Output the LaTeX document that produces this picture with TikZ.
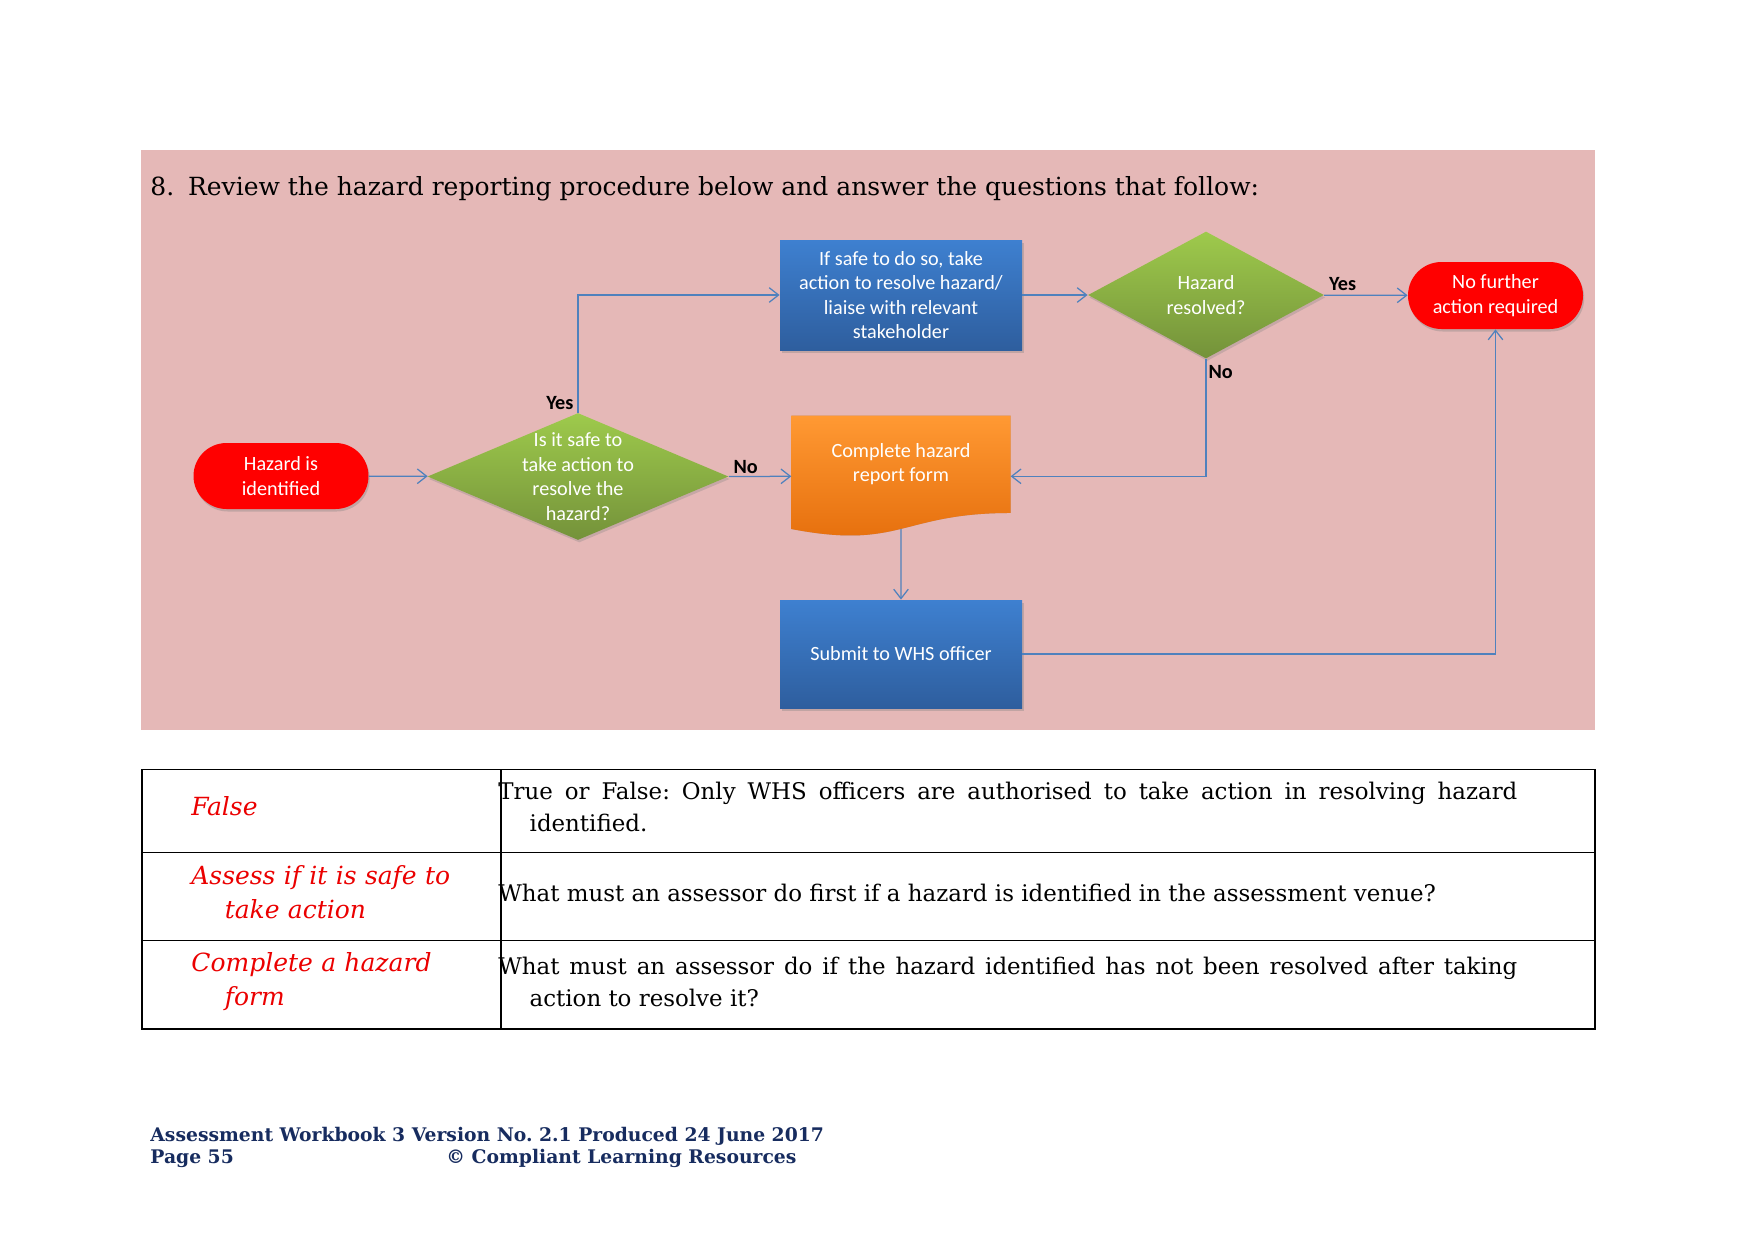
\documentclass[tikz,border=0pt]{standalone}
\usepackage{fontspec}
\setmainfont{DejaVu Serif}
\newfontfamily\flowfont{Carlito}
\usetikzlibrary{positioning, arrows.meta, shapes.geometric, shapes.misc,
  shadows, calc}

\definecolor{pinkbg}{RGB}{229,184,183}
\definecolor{termred}{RGB}{255,0,0}
\definecolor{greentop}{RGB}{158,202,76}
\definecolor{greenbot}{RGB}{116,146,58}
\definecolor{bluetop}{RGB}{62,128,208}
\definecolor{bluebot}{RGB}{46,94,158}
\definecolor{orangetop}{RGB}{255,153,51}
\definecolor{orangebot}{RGB}{228,108,10}
\definecolor{linkblue}{RGB}{79,129,189}
\definecolor{ansred}{RGB}{235,0,0}
\definecolor{navy}{RGB}{23,44,95}

\newcommand\pxu{0.48pt}

\begin{document}
\frenchspacing
\begin{tikzpicture}[
  x=0.48pt, y=-0.48pt,
  flow/.style={font=\flowfont\fontsize{9.7}{11.8}\selectfont, text=white,
               align=center},
  term/.style={flow, rounded rectangle, fill=termred, inner sep=0pt,
               minimum width=175*\pxu, minimum height=66*\pxu,
               drop shadow={shadow xshift=0.6pt, shadow yshift=-1.2pt, opacity=0.35}},
  decision/.style={diamond, top color=greentop, bottom color=greenbot,
               inner sep=0pt, minimum width=301*\pxu, minimum height=127*\pxu,
               drop shadow={shadow xshift=0.6pt, shadow yshift=-1.2pt, opacity=0.3}},
  bluebox/.style={flow, rectangle, top color=bluetop, bottom color=bluebot,
               minimum width=242*\pxu, minimum height=110*\pxu, inner sep=0pt,
               drop shadow={shadow xshift=0.8pt, shadow yshift=-1.4pt, opacity=0.35}},
  docbox/.style={minimum width=218.5*\pxu, minimum height=120.6*\pxu, inner sep=0pt},
  link/.style={draw=linkblue, line width=0.6pt,
               -{Straight Barb[length=4.5pt, width=7pt]}},
  lbl/.style={font=\flowfont\fontsize{9.7}{11.8}\selectfont\bfseries, inner sep=1pt},
  headline/.style={font=\fontsize{12}{14}\selectfont, inner sep=0pt},
  ans/.style={font=\fontsize{12}{16.3}\selectfont\itshape, text=ansred, inner sep=0pt},
  qst/.style={font=\fontsize{11}{15.4}\selectfont, inner sep=0pt},
  foot/.style={font=\fontsize{9}{10.5}\selectfont\bfseries, text=navy, inner sep=0pt},
]
\fill[white] (0,0) rectangle (1754,1241);
\useasboundingbox (0,0) rectangle (1754,1241);
\fill[pinkbg] (141,150) rectangle (1595,730);

\node[headline, anchor=west] (head) at (150,188.5)
  {8.\hspace{0.55em}Review the hazard reporting procedure below and answer the questions that follow:};

% flowchart
\node[term] (haz) at (281,476) {Hazard is\\identified};
\node[decision, label={[flow]center:Is it safe to\\take action to\\resolve the\\hazard?}]
  (safe) at (578,476.5) {};
\node[bluebox] (act) at (901,295)
  {If safe to do so, take\\action to resolve hazard/\\liaise with relevant\\stakeholder};
\node[decision, minimum width=236*\pxu, label={[flow]center:Hazard\\resolved?}]
  (res) at (1206,295) {};
\node[term, minimum height=67*\pxu] (nof) at (1495.5,295.5) {No further\\action required};
\node[docbox] (doc) at (901,476.3) {};
\fill[black, opacity=0.2, xshift=0.8pt, yshift=-1.4pt]
  (doc.north west) -- (doc.north east)
  -- ($(doc.north east)!0.802!(doc.south east)$)
  .. controls ($(doc.north)!0.802!(doc.south)$) and ($(doc.north)!1.1075!(doc.south)$)
  .. ($(doc.north west)!0.934!(doc.south west)$) -- cycle;
\shade[top color=orangetop, bottom color=orangebot]
  (doc.north west) -- (doc.north east)
  -- ($(doc.north east)!0.802!(doc.south east)$)
  .. controls ($(doc.north)!0.802!(doc.south)$) and ($(doc.north)!1.1075!(doc.south)$)
  .. ($(doc.north west)!0.934!(doc.south west)$) -- cycle;
\node[flow] (doctext) at ($(doc.north)!0.401!(doc.south)$) {Complete hazard\\report form};
\coordinate (docbot) at ($(doc.north)!0.933!(doc.south)$);
\node[bluebox, minimum height=108*\pxu] (submit) at (901,654) {Submit to WHS officer};

\draw[link] (haz) -- (safe);
\draw[link] (safe.north) |- (act.west);
\draw[link] (act) -- (res);
\draw[link] (res) -- (nof);
\draw[link] (safe.east) -- (doc.west);
\draw[link] (res.south) |- (doc.east);
\draw[link] (docbot) -- (submit);
\draw[link] (submit.east) -| (nof.south);

\node[lbl, above left=0pt and 1pt of safe.north] (yes1) {Yes};
\node[lbl, above right=0pt and 1pt of safe.east] (no1) {No};
\node[lbl, above right=1pt and 1pt of res.east] (yes2) {Yes};
\node[lbl, below right=2pt and 0pt of res.south] (no2) {No};

% table
\draw[line width=0.5pt] (142,769.6) rectangle (1595,1029);
\draw[line width=0.5pt] (142,852.4) -- (1595,852.4);
\draw[line width=0.5pt] (142,940.7) -- (1595,940.7);
\draw[line width=0.5pt] (501,769.6) -- (501,1029);

\node[ans, anchor=west] (a1) at (191,806.5) {False};
\node[ans, anchor=west, text width=300*\pxu, align=left] (a2) at (191,892)
  {\hangindent=16pt\hangafter=1 Assess if it is safe to\newline take action\par};
\node[ans, anchor=west, text width=300*\pxu, align=left] (a3) at (191,981.5)
  {\hangindent=16pt\hangafter=1 Complete a hazard\newline form\par};

\node[qst, anchor=west, text width=1019*\pxu, align=justify] (q1) at (498,807)
  {\hangindent=15pt\hangafter=1 True or False: Only WHS officers are authorised to take action in resolving hazard\linebreak identified.\par};
\node[qst, anchor=west] (q2) at (498,893)
  {What must an assessor do first if a hazard is identified in the assessment venue?};
\node[qst, anchor=west, text width=1019*\pxu, align=justify] (q3) at (498,981.5)
  {\hangindent=15pt\hangafter=1 What must an assessor do if the hazard identified has not been resolved after taking\linebreak action to resolve it?\par};

% footer
\node[foot, anchor=west] (foot1) at (150,1136)
  {Assessment Workbook 3 Version No. 2.1 Produced 24 June 2017};
\node[foot, anchor=west] (foot2) at (150,1158.5) {Page 55};
\node[foot, anchor=west] (foot3) at (446,1158.5) {© Compliant Learning Resources};
\end{tikzpicture}
\end{document}
